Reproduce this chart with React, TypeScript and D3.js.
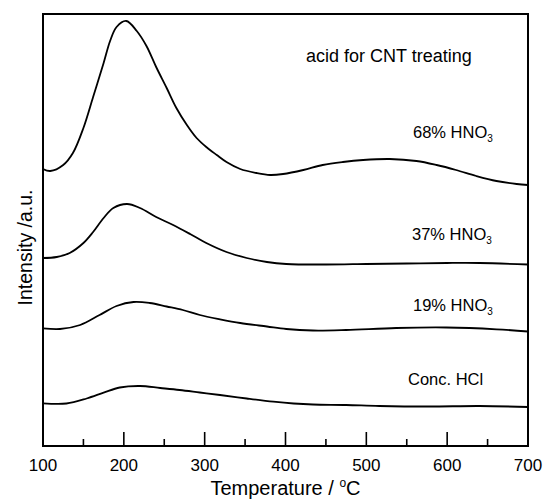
import React from "react";
import * as d3 from "d3";

// X axis ticks (Temperature, °C)
const xMajorTicks = [100, 200, 300, 400, 500, 600, 700];
const xMinorTicks = [150, 250, 350, 450, 550, 650];

// 68% HNO3
const t68 = [100, 109, 125, 137, 150, 162, 175, 183, 191, 203, 216, 228, 240, 253, 265, 278, 290, 302, 315, 327, 344, 364, 381, 397, 422, 446, 471, 496, 529, 562, 587, 611, 636, 661, 686, 700];
const v68 = [277, 275, 281, 293, 318, 349, 383, 405, 419, 425, 415, 400, 379, 358, 338, 321, 308, 299, 291, 284, 277, 273, 271, 272, 276, 281, 284, 286, 287, 285, 281, 276, 270, 265, 262, 261];

// 37% HNO3
const t37 = [100, 117, 133, 150, 162, 175, 187, 204, 220, 240, 261, 282, 302, 327, 352, 377, 401, 450, 500, 550, 600, 640, 700];
const v37 = [188, 189, 193, 203, 214, 228, 238, 242, 238, 229, 221, 212, 203, 194, 188, 184, 182, 181.5, 182, 182.5, 183, 183, 181.5];

// 19% HNO3
const t19 = [100, 121, 146, 170, 191, 212, 232, 253, 273, 294, 319, 344, 377, 401, 434, 475, 537, 599, 661, 700];
const v19 = [117.7, 117, 121, 131, 140, 144, 143, 139.5, 136, 131, 126.7, 123, 119.5, 117, 115.5, 116, 118, 118.5, 116.7, 114.5];

// Conc. HCl
const tHCl = [100, 129, 154, 175, 195, 220, 245, 269, 294, 319, 352, 385, 410, 434, 475, 516, 578, 640, 700];
const vHCl = [42.7, 42.5, 47.5, 53.3, 58.5, 60, 58, 56, 53.5, 51, 47.5, 44.3, 42.5, 41.5, 41, 40, 39.5, 40, 39];

const seriesNames = ["68% HNO", "37% HNO", "19% HNO", "Conc. HCl"];
const seriesSubs = ["3", "3", "3", ""];
const seriesT = [t68, t37, t19, tHCl];
const seriesV = [v68, v37, v19, vHCl];

const W = 547;
const H = 499;
const L = 43, R = 528, T = 14, B = 446;
const FONT = "Arial, 'Liberation Sans', Helvetica, sans-serif";

export default function App() {
  const x = d3.scaleLinear().domain([100, 700]).range([L, R]);
  const y = d3.scaleLinear().domain([0, 432]).range([B, T]);
  const line = d3
    .line<[number, number]>()
    .x((d) => x(d[0]))
    .y((d) => y(d[1]))
    .curve(d3.curveCatmullRom.alpha(0.5));

  const labelPos = [
    { x: 413, y: 138 },
    { x: 412, y: 240 },
    { x: 413, y: 311 },
    { x: 408, y: 385 },
  ];

  return (
    <svg
      width={W}
      height={H}
      style={{ position: "absolute", left: 0, top: 0, background: "#fff" }}
      fontFamily={FONT}
    >
      <defs>
        <clipPath id="plot">
          <rect x={L} y={T} width={R - L} height={B - T} />
        </clipPath>
      </defs>
      <rect x={0} y={0} width={W} height={H} fill="#fff" />
      <g clipPath="url(#plot)">
        {seriesT.map((ts, i) => {
          const pts = ts.map((t, j) => [t, seriesV[i][j]] as [number, number]);
          return (
            <path
              key={i}
              d={line(pts) || ""}
              fill="none"
              stroke="#000"
              strokeWidth={1.8}
              strokeLinejoin="round"
            />
          );
        })}
      </g>
      {xMajorTicks.map((t) => (
        <line key={"M" + t} x1={x(t)} x2={x(t)} y1={B} y2={B - 14} stroke="#000" strokeWidth={1.6} />
      ))}
      {xMinorTicks.map((t) => (
        <line key={"m" + t} x1={x(t)} x2={x(t)} y1={B} y2={B - 7} stroke="#000" strokeWidth={1.6} />
      ))}
      <rect x={L} y={T} width={R - L} height={B - T} fill="none" stroke="#000" strokeWidth={2} />
      {xMajorTicks.map((t) => (
        <text key={"l" + t} x={x(t)} y={471} fontSize={17} textAnchor="middle" fill="#000">
          {t}
        </text>
      ))}
      <text x={(L + R) / 2} y={495} fontSize={20} textAnchor="middle" fill="#000">
        Temperature / <tspan fontSize={12} dy={-8}>o</tspan>
        <tspan dy={8}>C</tspan>
      </text>
      <text
        transform={`translate(32,247.5) rotate(-90)`}
        fontSize={19.5}
        textAnchor="middle"
        fill="#000"
      >
        Intensity /a.u.
      </text>
      <text x={306} y={62} fontSize={18} fill="#000">
        acid for CNT treating
      </text>
      {seriesNames.map((n, i) => (
        <text key={n} x={labelPos[i].x} y={labelPos[i].y} fontSize={16.5} fill="#000">
          {n}
          {seriesSubs[i] && (
            <tspan fontSize={10} dy={4}>
              {seriesSubs[i]}
            </tspan>
          )}
        </text>
      ))}
    </svg>
  );
}
